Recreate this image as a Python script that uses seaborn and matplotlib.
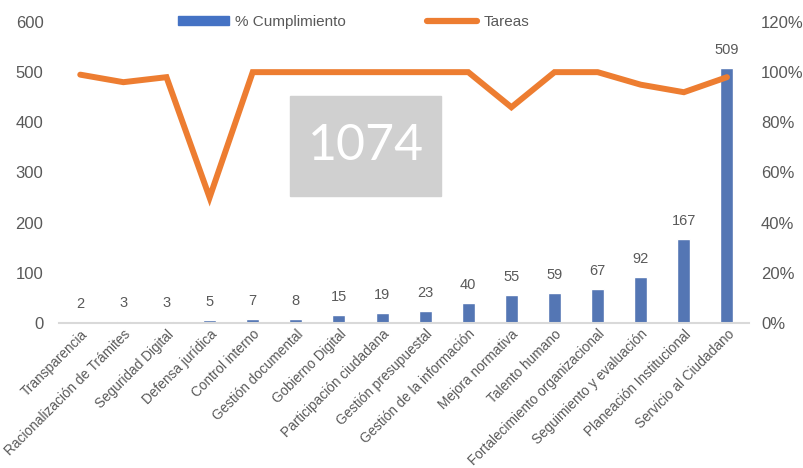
import numpy as np
import pandas as pd
import matplotlib
matplotlib.use("Agg")
import matplotlib.pyplot as plt
import seaborn as sns
from matplotlib.patches import Rectangle, Patch
from matplotlib.lines import Line2D

# data
categorias = ["Transparencia", "Racionalización de Trámites", "Seguridad Digital",
              "Defensa jurídica", "Control interno", "Gestión documental",
              "Gobierno Digital", "Participación ciudadana", "Gestión presupuestal",
              "Gestión de la información", "Mejora normativa", "Talento humano",
              "Fortalecimiento organizacional", "Seguimiento y evaluación",
              "Planeación Institucional", "Servicio al Ciudadano"]
tareas = [2, 3, 3, 5, 7, 8, 15, 19, 23, 40, 55, 59, 67, 92, 167, 509]
cumplimiento = [99, 96, 98, 50, 100, 100, 100, 100, 100, 100, 86, 100, 100, 95, 92, 98]
total = "1074"

df = pd.DataFrame({"cat": categorias, "tareas": tareas, "pct": cumplimiento})

sns.set_style("white")
plt.rcParams["font.family"] = ["Liberation Sans", "DejaVu Sans"]

gris = "#595959"
azul = "#4472C4"
naranja = "#ED7D31"

fig = plt.figure(figsize=(8.04, 4.68), dpi=100)
ax = fig.add_axes([0.073, 0.31, 0.858, 0.643])

# bars
sns.barplot(data=df, x="cat", y="tareas", color=azul, width=0.3, ax=ax, zorder=2)
ax.set_ylim(0, 600)
ax.set_xlim(-0.5, len(categorias) - 0.5)
ax.set_yticks(range(0, 601, 100))
ax.set_xlabel("")
ax.set_ylabel("")
for i, v in enumerate(tareas):
    ax.text(i, v + 22, str(v), ha="center", va="bottom", fontsize=10.5, color=gris)

ax.set_xticks(range(len(categorias)))
ax.set_xticklabels(categorias, rotation=45, ha="right", rotation_mode="anchor",
                   fontsize=9.8, color=gris)
ax.tick_params(axis="y", labelsize=12, labelcolor=gris, length=0, pad=11)
ax.tick_params(axis="x", length=0, pad=3)
for s in ["top", "left", "right"]:
    ax.spines[s].set_visible(False)
ax.spines["bottom"].set_color("#D9D9D9")
ax.spines["bottom"].set_linewidth(1.5)

# line on secondary axis
ax2 = ax.twinx()
sns.lineplot(x=np.arange(len(categorias)), y=df["pct"], color=naranja,
             linewidth=4.3, ax=ax2, solid_joinstyle="miter", zorder=3)
ax2.set_ylim(0, 120)
ax2.set_yticks(range(0, 121, 20))
ax2.set_yticklabels([f"{t}%" for t in range(0, 121, 20)])
ax2.set_ylabel("")
ax2.tick_params(axis="y", labelsize=12, labelcolor=gris, length=0, pad=9)
for s in ["top", "left", "right", "bottom"]:
    ax2.spines[s].set_visible(False)

# total box
fig.patches.append(Rectangle((290 / 804, 1 - 196 / 468), 151 / 804, 100 / 468,
                             transform=fig.transFigure, color="#D0D0D0", zorder=5))
fig.text(366 / 804, 1 - 146 / 468, total, ha="center", va="center", fontsize=36,
         color="white", family=["Lato", "DejaVu Sans"], zorder=6)

# legend
handles = [Patch(color=azul), Line2D([0], [0], color=naranja, linewidth=4.5, solid_capstyle="round")]
fig.legend(handles, ["% Cumplimiento", "Tareas"], loc="center", ncol=2,
           bbox_to_anchor=(0.44, 0.953), frameon=False, fontsize=11,
           handlelength=3.3, handleheight=0.5, columnspacing=5.3, handletextpad=0.4,
           labelcolor=gris)

fig.savefig("out.png", dpi=100)
